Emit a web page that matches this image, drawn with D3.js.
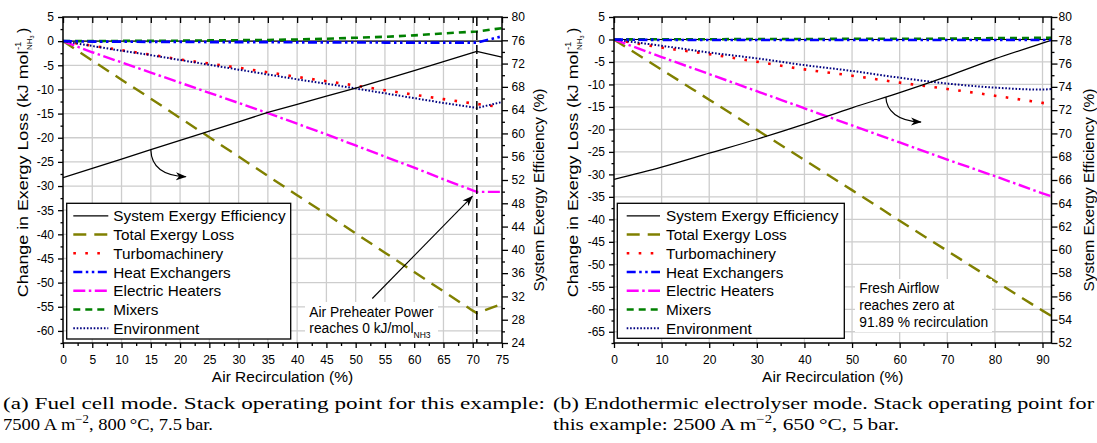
<!DOCTYPE html>
<html>
<head>
<meta charset="utf-8">
<script src="https://cdn.jsdelivr.net/npm/d3@7"></script>
<style>
  body { margin: 0; background: #fff; }
  svg { display: block; }
</style>
</head>
<body>
<svg id="fig" width="1097" height="443"></svg>
<script>
// ---------------- data ----------------
const seriesNames = ["System Exergy Efficiency", "Total Exergy Loss", "Turbomachinery",
  "Heat Exchangers", "Electric Heaters", "Mixers", "Environment"];

// (a) Fuel cell mode — air recirculation (%) and results
const recircFC     = [0, 5, 10, 15, 20, 25, 30, 35, 40, 45, 50, 55, 60, 65, 70, 70.7, 75];
const efficiencyFC = [52.4, 54.0, 55.6, 57.2, 58.8, 60.4, 62.0, 63.6, 65.0, 66.4, 67.8, 69.3, 70.8, 72.35, 73.9, 74.1, 73.1];
const totalLossFC  = [0, -4.0, -8.0, -11.9, -15.9, -19.9, -23.9, -27.9, -31.9, -35.8, -39.8, -43.8, -47.8, -51.8, -55.8, -56.3, -54.4];
const turboFC      = [0, -0.95, -1.87, -2.8, -3.8, -4.65, -5.5, -6.45, -7.4, -8.3, -9.2, -10.15, -11.1, -12.0, -12.9, -13.0, -13.7];
const heatExchFC   = [0, -0.1, -0.1, -0.15, -0.15, -0.2, -0.2, -0.2, -0.25, -0.25, -0.25, -0.3, -0.3, -0.3, -0.3, -0.3, 1.0];
const heatersFC    = [0, -2.3, -4.4, -6.5, -8.6, -10.7, -12.8, -14.9, -17.1, -19.3, -21.6, -23.9, -26.2, -28.6, -30.9, -31.2, -31.2];
const mixersFC     = [0, 0, 0.05, 0.05, 0.1, 0.15, 0.2, 0.25, 0.35, 0.5, 0.7, 0.9, 1.2, 1.6, 1.95, 2.0, 2.7];
const environFC    = [0, -1.0, -2.0, -2.9, -3.9, -4.9, -5.9, -6.9, -7.9, -8.8, -9.8, -10.8, -11.8, -12.8, -13.7, -13.85, -12.6];
const preheaterZeroFC = 70.7;

// (b) Endothermic electrolyser mode
const recircEL     = [0, 10, 20, 30, 40, 50, 60, 70, 80, 90, 91.89];
const efficiencyEL = [66.06, 67.1, 68.3, 69.5, 70.8, 72.2, 73.5, 74.9, 76.4, 77.75, 78.0];
const totalLossEL  = [0, -6.7, -13.4, -20.1, -26.8, -33.5, -40.3, -47.0, -53.7, -60.3, -61.5];
const turboEL      = [0, -1.8, -3.25, -4.95, -6.65, -8.05, -9.6, -11.0, -12.5, -14.1, -14.4];
const heatExchEL   = [0, -0.1, -0.1, -0.1, -0.1, -0.1, -0.1, -0.1, -0.1, -0.1, -0.1];
const heatersEL    = [0, -3.9, -7.7, -11.5, -15.3, -19.1, -22.9, -26.7, -30.4, -34.2, -34.9];
const mixersEL     = [0, 0.05, 0.05, 0.1, 0.1, 0.15, 0.15, 0.2, 0.3, 0.35, 0.35];
const environEL    = [0, -1.4, -2.9, -4.2, -5.7, -7.0, -8.5, -9.8, -10.7, -11.15, -11.0];

// tick values
const xTicksFC      = [0, 5, 10, 15, 20, 25, 30, 35, 40, 45, 50, 55, 60, 65, 70, 75];
const yLeftTicksFC  = [5, 0, -5, -10, -15, -20, -25, -30, -35, -40, -45, -50, -55, -60];
const yRightTicksFC = [24, 28, 32, 36, 40, 44, 48, 52, 56, 60, 64, 68, 72, 76, 80];
const xTicksEL      = [0, 10, 20, 30, 40, 50, 60, 70, 80, 90];
const yLeftTicksEL  = [5, 0, -5, -10, -15, -20, -25, -30, -35, -40, -45, -50, -55, -60, -65];
const yRightTicksEL = [52, 54, 56, 58, 60, 62, 64, 66, 68, 70, 72, 74, 76, 78, 80];

const captionA = ["(a) Fuel cell mode.  Stack operating point for this example:",
                  "7500\u2009A\u2009m", "\u22122", ", 800\u2009\u00B0C, 7.5\u2009bar."];
const captionB = ["(b) Endothermic electrolyser mode.  Stack operating point for",
                  "this example: 2500\u2009A\u2009m", "\u22122", ", 650\u2009\u00B0C, 5\u2009bar."];

// ---------------- styles ----------------
const FONT = '"Liberation Sans", Arial, Helvetica, sans-serif';
const SERIF = '"Liberation Serif", "Times New Roman", serif';
const GRID = "#cdcdcd";
const STYLES = [
  { color: "#000000", width: 1.3, dash: null },
  { color: "#808000", width: 2.4, dash: "13,8" },
  { color: "#ff0000", width: 2.6, dash: "2.6,9.4" },
  { color: "#0000ff", width: 2.6, dash: "9,3.5,2.5,3.5,2.5,3.5" },
  { color: "#ff00ff", width: 2.4, dash: "12,3.5,2.5,3.5" },
  { color: "#008000", width: 2.6, dash: "7,5" },
  { color: "#000080", width: 2.0, dash: "1.6,1.8" }
];
const DRAW_ORDER = [1, 4, 2, 6, 0, 5, 3];

const svg = d3.select("#fig");
svg.append("rect").attr("width", 1097).attr("height", 443).attr("fill", "#fff");

const defs = svg.append("defs");
defs.append("marker")
  .attr("id", "arrowHead")
  .attr("viewBox", "0 0 12 10")
  .attr("refX", 11).attr("refY", 5)
  .attr("markerWidth", 11).attr("markerHeight", 9)
  .attr("markerUnits", "userSpaceOnUse")
  .attr("orient", "auto")
  .append("path").attr("d", "M0,0.5 L12,5 L0,9.5 L3.5,5 Z").attr("fill", "#000");

function valueAt(xs, ys, xv) {
  const i = Math.max(1, d3.bisectLeft(xs, xv));
  const t = (xv - xs[i - 1]) / (xs[i] - xs[i - 1]);
  return ys[i - 1] + t * (ys[i] - ys[i - 1]);
}

function styleAxis(sel) {
  sel.attr("font-size", 12).attr("font-family", FONT);
  sel.select(".domain").remove();
  sel.selectAll("line").attr("stroke", "#000").attr("stroke-width", 1.3);
  sel.selectAll("text").attr("fill", "#000");
}

// rotated left title with stacked super/subscript unit
function yTitle(g, bx, cy) {
  const outer = g.append("g").attr("transform", `translate(${bx},${cy}) rotate(-90)`);
  const t = outer.append("g").attr("font-family", FONT).attr("fill", "#000");
  const main = t.append("text").attr("font-size", 15.5).text("Change in Exergy Loss (kJ mol");
  const w1 = main.node().getComputedTextLength() * 1.15;
  main.attr("textLength", w1).attr("lengthAdjust", "spacingAndGlyphs");
  const sup = t.append("text").attr("x", w1 + 0.5).attr("y", -7).attr("font-size", 9.5).text("-1");
  const sub = t.append("text").attr("x", w1 + 0.5).attr("y", 4).attr("font-size", 8).text("NH");
  const subW = sub.node().getComputedTextLength();
  const s3 = t.append("text").attr("x", w1 + 0.5 + subW).attr("y", 6).attr("font-size", 5.5).text("3");
  const endW = Math.max(sup.node().getComputedTextLength(), subW + s3.node().getComputedTextLength());
  const close = t.append("text").attr("x", w1 + endW + 3).attr("font-size", 15.5).text(")");
  const total = w1 + endW + 3 + close.node().getComputedTextLength();
  t.attr("transform", `translate(${-total / 2},0)`);
}

function drawPanel(p) {
  const g = svg.append("g");
  const x = d3.scaleLinear().domain(p.xDomain).range([p.left, p.right]);
  const yL = d3.scaleLinear().domain(p.yLeftDomain).range([p.bottom, p.top]);
  const yR = d3.scaleLinear().domain(p.yRightDomain).range([p.bottom, p.top]);

  const clipId = "clip" + p.id;
  defs.append("clipPath").attr("id", clipId).append("rect")
    .attr("x", p.left).attr("y", p.top).attr("width", p.right - p.left).attr("height", p.bottom - p.top);

  // grid lines
  const grid = g.append("g").attr("stroke", GRID).attr("stroke-width", 1.3);
  grid.selectAll("line.gx")
    .data(p.xTicks.filter(v => v > p.xDomain[0] && v < p.xDomain[1]))
    .join("line").attr("class", "gx")
    .attr("x1", d => x(d)).attr("x2", d => x(d)).attr("y1", p.top).attr("y2", p.bottom);
  grid.selectAll("line.gy")
    .data(p.yLeftTicks.filter(v => v > p.yLeftDomain[0] && v < p.yLeftDomain[1]))
    .join("line").attr("class", "gy")
    .attr("y1", d => yL(d)).attr("y2", d => yL(d)).attr("x1", p.left).attr("x2", p.right);

  // zero reference line
  g.append("line").attr("x1", p.left).attr("x2", p.right)
    .attr("y1", yL(0)).attr("y2", yL(0)).attr("stroke", "#000").attr("stroke-width", 1.1);

  // series
  const plot = g.append("g").attr("clip-path", `url(#${clipId})`);
  DRAW_ORDER.forEach(i => {
    const s = p.series[i];
    const st = STYLES[i];
    const y = s.axis === "right" ? yR : yL;
    const line = d3.line().x((d, j) => x(p.xs[j])).y(d => y(d)).curve(p.curve);
    plot.append("path").datum(s.values)
      .attr("d", line).attr("fill", "none")
      .attr("stroke", st.color).attr("stroke-width", st.width)
      .attr("stroke-dasharray", st.dash);
  });

  // axes
  const fmt = d => String(d);
  g.append("g").attr("transform", `translate(0,${p.bottom})`)
    .call(d3.axisBottom(x).tickValues(p.xTicks).tickSize(5).tickSizeOuter(0).tickPadding(7).tickFormat(fmt))
    .call(styleAxis);
  g.append("g").attr("transform", `translate(0,${p.bottom})`)
    .call(d3.axisBottom(x).tickValues(p.xMinor).tickSize(3).tickSizeOuter(0).tickFormat(""))
    .call(styleAxis);
  g.append("g").attr("transform", `translate(0,${p.top})`)
    .call(d3.axisTop(x).tickValues(p.xTicks).tickSize(-6).tickSizeOuter(0).tickFormat(""))
    .call(styleAxis);
  g.append("g").attr("transform", `translate(0,${p.top})`)
    .call(d3.axisTop(x).tickValues(p.xMinor).tickSize(-3).tickSizeOuter(0).tickFormat(""))
    .call(styleAxis);
  g.append("g").attr("transform", `translate(${p.left},0)`)
    .call(d3.axisLeft(yL).tickValues(p.yLeftTicks).tickSize(5).tickSizeOuter(0).tickPadding(4).tickFormat(fmt))
    .call(styleAxis);
  g.append("g").attr("transform", `translate(${p.left},0)`)
    .call(d3.axisLeft(yL).tickValues(p.yLeftMinor).tickSize(2.5).tickSizeOuter(0).tickFormat(""))
    .call(styleAxis);
  g.append("g").attr("transform", `translate(${p.right},0)`)
    .call(d3.axisRight(yR).tickValues(p.yRightTicks).tickSize(6).tickSizeOuter(0).tickPadding(p.rightPad).tickFormat(fmt))
    .call(styleAxis);
  g.append("g").attr("transform", `translate(${p.right},0)`)
    .call(d3.axisRight(yR).tickValues(p.yRightMinor).tickSize(3).tickSizeOuter(0).tickFormat(""))
    .call(styleAxis);

  // frame
  g.append("rect").attr("x", p.left).attr("y", p.top)
    .attr("width", p.right - p.left).attr("height", p.bottom - p.top)
    .attr("fill", "none").attr("stroke", "#000").attr("stroke-width", 1.5);

  // axis titles
  g.append("text").attr("x", (p.left + p.right) / 2).attr("y", 381.5)
    .attr("text-anchor", "middle").attr("font-family", FONT).attr("font-size", 15.5)
    .text("Air Recirculation (%)");
  yTitle(g, p.leftTitleX, p.leftTitleY);
  g.append("text")
    .attr("transform", `translate(${p.rightTitleX},${p.rightTitleY}) rotate(-90)`)
    .attr("text-anchor", "middle").attr("font-family", FONT).attr("font-size", 15.5)
    .text("System Exergy Efficiency (%)");

  // legend
  const lg = g.append("g").attr("transform", `translate(${p.legend.x},${p.legend.y})`);
  lg.append("rect").attr("width", p.legend.w).attr("height", p.legend.h)
    .attr("fill", "#fff").attr("stroke", "#000").attr("stroke-width", 1.3);
  seriesNames.forEach((name, i) => {
    const cy = 12.5 + i * 18.75;
    const st = STYLES[i];
    lg.append("line").attr("x1", p.legend.s0).attr("x2", p.legend.s1)
      .attr("y1", cy).attr("y2", cy)
      .attr("stroke", st.color).attr("stroke-width", st.width).attr("stroke-dasharray", st.dash);
    lg.append("text").attr("x", p.legend.tx).attr("y", cy + 5.5)
      .attr("font-family", FONT).attr("font-size", 15.3).text(name);
  });

  return { g, x, yL, yR };
}

const panelA = drawPanel({
  id: "A", left: 63, right: 502, top: 17, bottom: 343,
  xDomain: [0, 75], yLeftDomain: [-62.5, 5], yRightDomain: [24, 80],
  xTicks: xTicksFC, xMinor: d3.range(2.5, 75, 5),
  yLeftTicks: yLeftTicksFC, yLeftMinor: d3.range(-62.5, 5, 5),
  yRightTicks: yRightTicksFC, yRightMinor: d3.range(26, 80, 4),
  rightPad: 3.5,
  xs: recircFC, curve: d3.curveLinear,
  series: [
    { values: efficiencyFC, axis: "right" },
    { values: totalLossFC, axis: "left" },
    { values: turboFC, axis: "left" },
    { values: heatExchFC, axis: "left" },
    { values: heatersFC, axis: "left" },
    { values: mixersFC, axis: "left" },
    { values: environFC, axis: "left" }
  ],
  leftTitleX: 27.5, leftTitleY: 162.5, rightTitleX: 544, rightTitleY: 190,
  legend: { x: 66.7, y: 203.3, w: 224, h: 135.7, s0: 6.6, s1: 41.6, tx: 46.6 }
});

const panelB = drawPanel({
  id: "B", left: 614, right: 1051.5, top: 17, bottom: 343,
  xDomain: [0, 91.89], yLeftDomain: [-67.5, 5], yRightDomain: [52, 80],
  xTicks: xTicksEL, xMinor: d3.range(5, 90, 10),
  yLeftTicks: yLeftTicksEL, yLeftMinor: d3.range(-67.5, 5, 5),
  yRightTicks: yRightTicksEL, yRightMinor: d3.range(53, 80, 2),
  rightPad: 1,
  xs: recircEL, curve: d3.curveMonotoneX,
  series: [
    { values: efficiencyEL, axis: "right" },
    { values: totalLossEL, axis: "left" },
    { values: turboEL, axis: "left" },
    { values: heatExchEL, axis: "left" },
    { values: heatersEL, axis: "left" },
    { values: mixersEL, axis: "left" },
    { values: environEL, axis: "left" }
  ],
  leftTitleX: 577.5, leftTitleY: 162.5, rightTitleX: 1094, rightTitleY: 190,
  legend: { x: 617.3, y: 203.3, w: 227, h: 135, s0: 9.4, s1: 42.7, tx: 48.7 }
});

// ---------- annotations: panel (a) ----------
{
  const { g, x, yL, yR } = panelA;
  // air preheater power reaches zero
  g.append("line")
    .attr("x1", x(preheaterZeroFC)).attr("x2", x(preheaterZeroFC))
    .attr("y1", 17).attr("y2", 343)
    .attr("stroke", "#000").attr("stroke-width", 1.5).attr("stroke-dasharray", "9,5");

  // efficiency curve belongs to the right axis
  const sx = x(15), sy = yR(valueAt(recircFC, efficiencyFC, 15));
  g.append("path")
    .attr("d", `M${sx},${sy} C${sx + 0.5},${sy + 16} ${sx + 11},${sy + 26} ${sx + 35},${sy + 27}`)
    .attr("fill", "none").attr("stroke", "#000").attr("stroke-width", 1.2)
    .attr("marker-end", "url(#arrowHead)");

  // label with pointer to the electric heater curve
  g.append("rect").attr("x", 305).attr("y", 302).attr("width", 133).attr("height", 40).attr("fill", "#fff");
  const tipX = x(preheaterZeroFC) - 4.5, tipY = yL(valueAt(recircFC, heatersFC, preheaterZeroFC)) + 4.5;
  g.append("line").attr("x1", 372.3).attr("y1", 298.5).attr("x2", tipX).attr("y2", tipY)
    .attr("stroke", "#000").attr("stroke-width", 1.1).attr("marker-end", "url(#arrowHead)");
  const t = g.append("g").attr("font-family", FONT).attr("fill", "#000");
  t.append("text").attr("x", 309.3).attr("y", 317.3).attr("font-size", 13.8).text("Air Preheater Power");
  const l2 = t.append("text").attr("x", 309.3).attr("y", 333.3).attr("font-size", 13.8);
  l2.append("tspan").text("reaches 0 kJ/mol");
  l2.append("tspan").attr("dy", 4.5).attr("font-size", 8.5).text("NH3");
}

// ---------- annotations: panel (b) ----------
{
  const { g, x, yL, yR } = panelB;
  const sx = x(57.1), sy = yR(valueAt(recircEL, efficiencyEL, 57.1));
  g.append("path")
    .attr("d", `M${sx},${sy} C${sx + 0.5},${sy + 14} ${sx + 12},${sy + 24} ${sx + 35},${sy + 25}`)
    .attr("fill", "none").attr("stroke", "#000").attr("stroke-width", 1.2)
    .attr("marker-end", "url(#arrowHead)");

  g.append("rect").attr("x", 855).attr("y", 279).attr("width", 137).attr("height", 53).attr("fill", "#fff");
  const t = g.append("g").attr("font-family", FONT).attr("font-size", 13.8).attr("fill", "#000");
  t.append("text").attr("x", 859.3).attr("y", 293.3).text("Fresh Airflow");
  t.append("text").attr("x", 859.3).attr("y", 310).text("reaches zero at");
  t.append("text").attr("x", 859.3).attr("y", 326.7).text("91.89 % recirculation");
}

// ---------- captions ----------
function caption(lines, x0, width1, width2) {
  const c = svg.append("g").attr("font-family", SERIF).attr("font-size", 17.5).attr("fill", "#000");
  c.append("text").attr("x", x0).attr("y", 408.5)
    .attr("textLength", width1).attr("lengthAdjust", "spacingAndGlyphs").text(lines[0]);
  const l2 = c.append("text").attr("x", x0).attr("y", 429.5)
    .attr("textLength", width2).attr("lengthAdjust", "spacingAndGlyphs");
  l2.append("tspan").text(lines[1]);
  l2.append("tspan").attr("dy", -6.5).attr("font-size", 12).text(lines[2]);
  l2.append("tspan").attr("dy", 6.5).text(lines[3]);
}
caption(captionA, 3, 542, 210);
caption(captionB, 553, 541, 346);
</script>
</body>
</html>
